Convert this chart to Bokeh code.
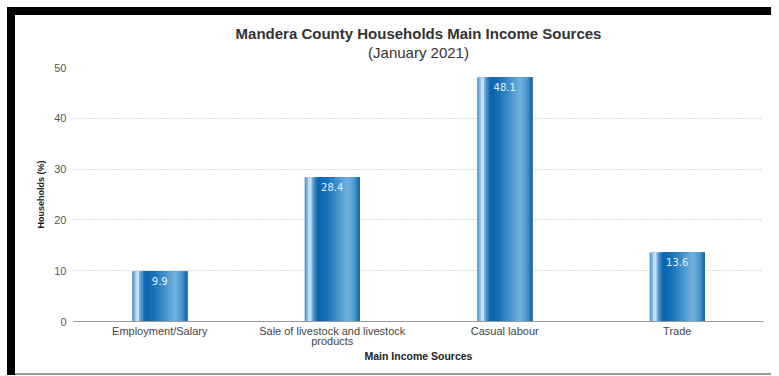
from bokeh.plotting import figure
from bokeh.models import Range1d, FactorRange, Title, ColumnDataSource, Div
from bokeh.layouts import column, row
from bokeh.transform import dodge
from bokeh.core.properties import value
from bokeh.embed import file_html
from bokeh.resources import INLINE

categories = ["Employment/Salary", "Sale of livestock and livestock\nproducts", "Casual labour", "Trade"]
values = [9.9, 28.4, 48.1, 13.6]
y_ticks = [0, 10, 20, 30, 40, 50]
title_text = "Mandera County Households Main Income Sources"
subtitle_text = "(January 2021)"

FONT = "Liberation Sans"

p = figure(
    x_range=FactorRange(*categories, range_padding=0),
    y_range=Range1d(0, 50),
    width=756, height=358,
    output_backend="svg", toolbar_location=None, tools="",
    title_location=None, margin=0,
    min_border_left=58, min_border_right=8, min_border_top=52, min_border_bottom=52,
)
p.outline_line_color = None
p.background_fill_color = "white"
p.border_fill_color = "white"

# small empty spacer between frame and subtitle
p.add_layout(Title(text=" ", text_font=FONT, text_font_size="1px", standoff=4,
                   text_color="white", align="center"), "above")
p.add_layout(Title(text=subtitle_text, text_font=FONT, text_font_size="15px",
                   text_font_style="normal", text_color="#333333", align="center",
                   standoff=0, text_line_height=0.2), "above")
p.add_layout(Title(text=title_text, text_font=FONT, text_font_size="15px",
                   text_font_style="bold", text_color="#333333", align="center",
                   standoff=0, text_line_height=1.0), "above")

src = ColumnDataSource(dict(cat=categories, val=values, lab=[f"{v:.1f}" for v in values]))

# cylinder-like shading made of layered vertical slices
stops = [(0.0, "#3a85c3"), (0.05, "#8fbfe6"), (0.10, "#e4f0fa"), (0.15, "#5b9ed4"),
         (0.24, "#0b64ad"), (0.40, "#1672ba"), (0.60, "#4593cd"), (0.78, "#71b2de"),
         (0.90, "#4b98cf"), (1.0, "#1262a8")]

def interp(t):
    for (t0, c0), (t1, c1) in zip(stops[:-1], stops[1:]):
        if t0 <= t <= t1:
            f = (t - t0) / (t1 - t0) if t1 > t0 else 0
            a = [int(c0[i:i + 2], 16) for i in (1, 3, 5)]
            b = [int(c1[i:i + 2], 16) for i in (1, 3, 5)]
            return "#%02x%02x%02x" % tuple(round(a[k] + (b[k] - a[k]) * f) for k in range(3))
    return stops[-1][1]

BW = 0.32
N = 32
sw = BW / N
for i in range(N):
    left = -BW / 2 + sw * i
    w = BW / 2 - left
    off = left + w / 2
    col = interp((i + 0.5) / N)
    p.vbar(x=dodge("cat", off, range=p.x_range), top="val", bottom=0, width=w,
           source=src, fill_color=col, line_color=None)

p.text(x="cat", y="val", text="lab", source=src, text_align="center", text_baseline="top",
       y_offset=6, text_font=value("DejaVu Sans"), text_font_size="10px", text_color="#e6f1fa")

# axes
p.yaxis.ticker = y_ticks
p.yaxis.axis_label = "Households (%)"
p.yaxis.axis_label_text_font = FONT
p.yaxis.axis_label_text_font_size = "9px"
p.yaxis.axis_label_text_font_style = "bold"
p.yaxis.axis_label_text_color = "#222222"
p.yaxis.axis_label_standoff = 5
p.yaxis.major_label_text_font = FONT
p.yaxis.major_label_text_font_size = "11px"
p.yaxis.major_label_text_color = "#555555"
p.yaxis.major_label_standoff = 7
p.yaxis.axis_line_color = None
p.yaxis.major_tick_line_color = None
p.yaxis.minor_tick_line_color = None
p.yaxis.major_tick_out = 0
p.yaxis.major_tick_in = 0
p.yaxis.minor_tick_out = 0

p.xaxis.axis_label = "Main Income Sources"
p.xaxis.axis_label_text_font = FONT
p.xaxis.axis_label_text_font_size = "10.5px"
p.xaxis.axis_label_text_font_style = "bold"
p.xaxis.axis_label_text_color = "#222222"
p.xaxis.axis_label_standoff = 0
p.xaxis.major_label_text_font = FONT
p.xaxis.major_label_text_font_size = "11px"
p.xaxis.major_label_text_color = "#444444"
p.xaxis.major_label_text_line_height = 0.85
p.xaxis.major_label_standoff = 3
p.xaxis.axis_line_color = "#9a9a9a"
p.xaxis.major_tick_line_color = None
p.xaxis.minor_tick_line_color = None
p.xaxis.major_tick_out = 0
p.xaxis.major_tick_in = 0

p.xgrid.grid_line_color = None
p.ygrid.grid_line_color = "#b5b5b5"
p.ygrid.grid_line_dash = "1 2"
p.ygrid.grid_line_width = 1

top_bar = Div(text="", width=764, height=8, margin=0, styles={"background-color": "black"})
left_bar = Div(text="", width=8, height=360, margin=0, styles={"background-color": "black"})
bottom_line = Div(text="", width=756, height=2, margin=0, styles={"background-color": "#9a9a9a"})

layout = column(top_bar, row(left_bar, column(p, bottom_line, spacing=0, margin=0), spacing=0, margin=0),
                spacing=0, margin=(7, 0, 0, 7))

open("out.html", "w").write(file_html(layout, INLINE))
